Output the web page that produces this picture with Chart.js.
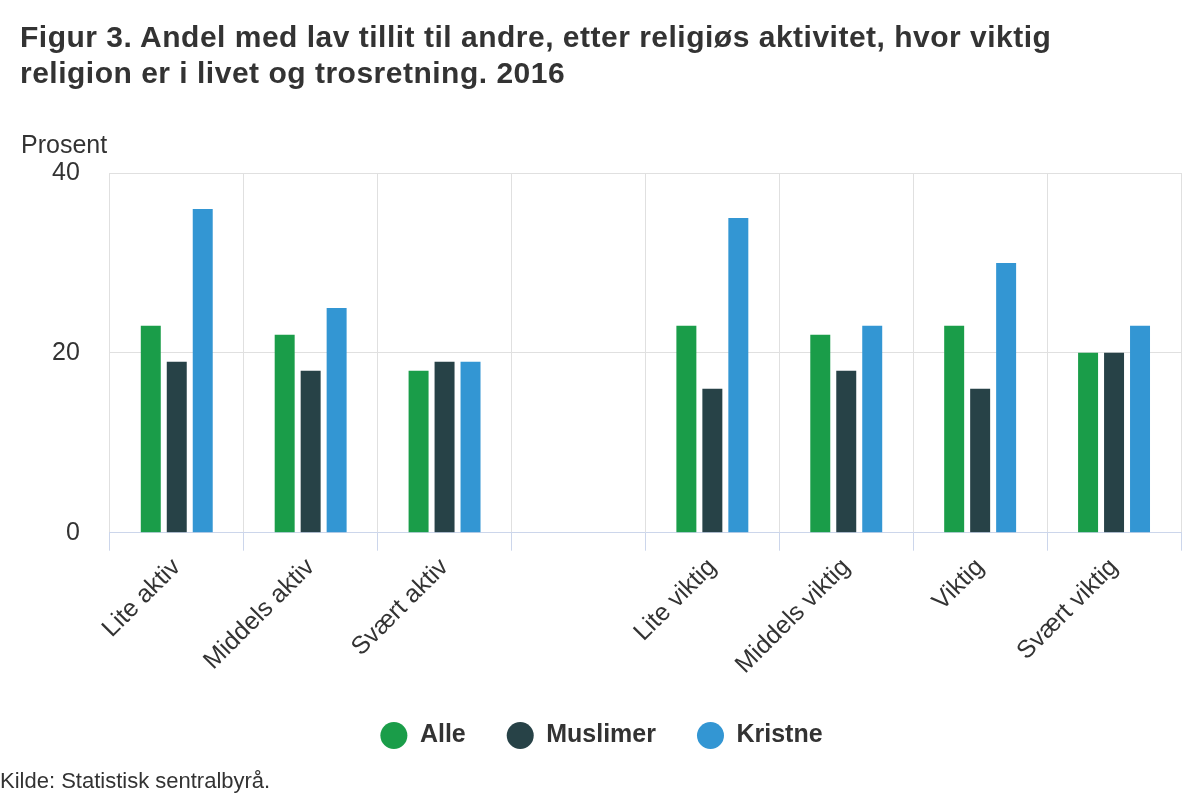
<!DOCTYPE html>
<html>
<head>
<meta charset="utf-8">
<script src="https://cdn.jsdelivr.net/npm/chart.js@4.4.1/dist/chart.umd.min.js"></script>
<style>
  html, body { margin: 0; padding: 0; background: #fff; }
  #wrap { position: relative; width: 1200px; height: 800px; overflow: hidden; }
  canvas { position: absolute; left: 0; top: 0; }
  .txt { position: absolute; font-family: "Liberation Sans", Arial, sans-serif; color: #333; white-space: nowrap; }
  #title { left: 20px; top: 19px; font-size: 30px; letter-spacing: 0.5px; font-weight: bold; line-height: 36px; }
  #unit { left: 21px; top: 132px; font-size: 25px; line-height: 25px; }
  #source { left: 0px; top: 770px; font-size: 22px; line-height: 22px; }
</style>
</head>
<body>
<div id="wrap">
  <canvas id="c" width="1200" height="800"></canvas>
  <div class="txt" id="title">Figur 3. Andel med lav tillit til andre, etter religiøs aktivitet, hvor viktig<br>religion er i livet og trosretning. 2016</div>
  <div class="txt" id="unit">Prosent</div>
  <div class="txt" id="source">Kilde: Statistisk sentralbyrå.</div>
</div>
<script>
const categories = ["Lite aktiv", "Middels aktiv", "Svært aktiv", "", "Lite viktig", "Middels viktig", "Viktig", "Svært viktig"];
const seriesNames = ["Alle", "Muslimer", "Kristne"];
const alle     = [23, 22, 18, null, 23, 22, 23, 20];
const muslimer = [19, 18, 19, null, 16, 18, 16, 20];
const kristne  = [36, 25, 19, null, 35, 23, 30, 23];
const yTicks = [0, 20, 40];
const colors = ["#1a9d49", "#274247", "#3396d3"];

Chart.defaults.font.family = '"Liberation Sans", Arial, sans-serif';
Chart.defaults.color = '#333';

const values = [alle, muslimer, kristne];
new Chart(document.getElementById('c'), {
  type: 'bar',
  data: {
    labels: categories,
    datasets: seriesNames.map((n, i) => ({
      label: n,
      data: values[i],
      backgroundColor: colors[i],
      borderWidth: 0,
      categoryPercentage: 0.582,
      barPercentage: 0.769
    }))
  },
  options: {
    responsive: false,
    animation: false,
    devicePixelRatio: 1,
    layout: { padding: { top: 173, left: 22, right: 19, bottom: 42 } },
    plugins: {
      title: { display: false },
      tooltip: { enabled: false },
      legend: {
        position: 'bottom',
        labels: {
          usePointStyle: true,
          pointStyle: 'circle',
          boxHeight: 19,
          pointStyleWidth: 27,
          padding: 41,
          color: '#333',
          font: { size: 25, weight: 'bold' }
        }
      }
    },
    scales: {
      x: {
        grid: { color: '#e0e0e0', tickColor: '#ccd6eb', tickLength: 18, offset: true, lineWidth: 1 },
        border: { color: '#ccd6eb', width: 1 },
        ticks: { minRotation: 45, maxRotation: 45, autoSkip: false, padding: 2, color: '#333', font: { size: 25 } }
      },
      y: {
        min: 0, max: 40,
        afterBuildTicks: (s) => { s.ticks = yTicks.map(v => ({ value: v })); },
        grid: { color: '#e0e0e0', drawTicks: false, lineWidth: 1 },
        border: { display: false },
        ticks: { padding: 30, color: '#333', font: { size: 25 } }
      }
    }
  }
});
</script>
</body>
</html>
